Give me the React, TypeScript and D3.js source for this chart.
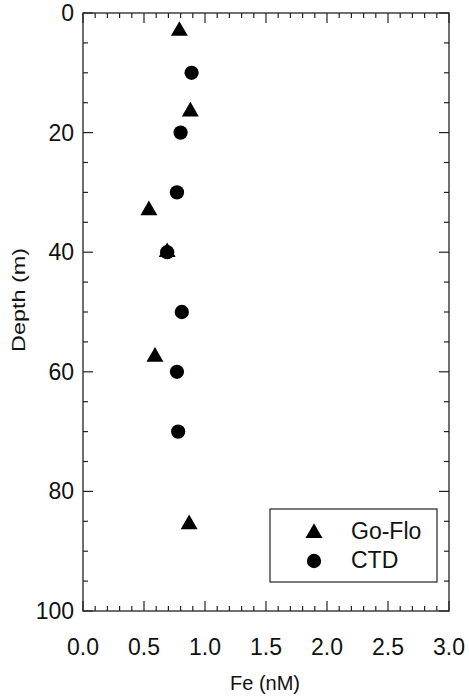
import React from "react";
import * as d3 from "d3";

const goFloFe = [0.79, 0.88, 0.54, 0.69, 0.59, 0.87];
const goFloDepth = [3, 16.5, 33, 40, 57.5, 85.5];
const ctdFe = [0.89, 0.80, 0.77, 0.69, 0.81, 0.77, 0.78];
const ctdDepth = [10, 20, 30, 40, 50, 60, 70];
const xTicks = [0, 0.5, 1.0, 1.5, 2.0, 2.5, 3.0];
const yTicks = [0, 20, 40, 60, 80, 100];
const legendLabels = ["Go-Flo", "CTD"];

const W = 469, H = 697;
const L = 83, R = 449, T = 13, B = 611;

export default function App() {
  const x = d3.scaleLinear().domain([0, 3]).range([L, R]);
  const y = d3.scaleLinear().domain([0, 100]).range([T, B]);
  const tri = d3.symbol().type(d3.symbolTriangle).size(125)();
  const circ = d3.symbol().type(d3.symbolCircle).size(160)();
  const xMinor = d3.range(0, 3.0001, 0.1);
  const yMinor = d3.range(0, 100.001, 5);
  const font = "Liberation Sans, Arial, Helvetica, sans-serif";
  return (
    <svg width={W} height={H} style={{ position: "absolute", left: 0, top: 0, background: "#fff" }}>
      <rect x={L} y={T} width={R - L} height={B - T} fill="none" stroke="#222" strokeWidth={1.3} />
      {xMinor.map((v, i) => {
        const major = Math.abs(v / 0.5 - Math.round(v / 0.5)) < 1e-6;
        const len = major ? 10 : 5;
        return (
          <g key={"xt" + i}>
            <line x1={x(v)} x2={x(v)} y1={B} y2={B - len} stroke="#222" strokeWidth={1.2} />
            <line x1={x(v)} x2={x(v)} y1={T} y2={T + len} stroke="#222" strokeWidth={1.2} />
          </g>
        );
      })}
      {yMinor.map((v, i) => {
        const major = v % 20 === 0;
        const len = major ? 10 : 5;
        return (
          <g key={"yt" + i}>
            <line x1={L} x2={L + len} y1={y(v)} y2={y(v)} stroke="#222" strokeWidth={1.2} />
            <line x1={R} x2={R - len} y1={y(v)} y2={y(v)} stroke="#222" strokeWidth={1.2} />
          </g>
        );
      })}
      {xTicks.map((v) => (
        <text key={"xl" + v} x={x(v)} y={655} textAnchor="middle" fontFamily={font} fontSize={23} fill="#111">
          {v.toFixed(1)}
        </text>
      ))}
      {yTicks.map((v) => (
        <text key={"yl" + v} x={74} y={y(v) + 8} textAnchor="end" fontFamily={font} fontSize={23} fill="#111">
          {v}
        </text>
      ))}
      <text x={265} y={690} textAnchor="middle" fontFamily={font} fontSize={20} fill="#111">Fe (nM)</text>
      <text transform="translate(25,300) rotate(-90)" textAnchor="middle" fontFamily={font} fontSize={19}
        textLength={104} lengthAdjust="spacingAndGlyphs" fill="#111">Depth (m)</text>
      {goFloFe.map((v, i) => (
        <path key={"g" + i} d={tri} transform={`translate(${x(v)},${y(goFloDepth[i])})`} fill="#000" />
      ))}
      {ctdFe.map((v, i) => (
        <path key={"c" + i} d={circ} transform={`translate(${x(v)},${y(ctdDepth[i])})`} fill="#000" />
      ))}
      <rect x={270} y={509} width={167} height={73} fill="#fff" stroke="#222" strokeWidth={1.2} />
      <path d={tri} transform="translate(314,533)" fill="#000" />
      <path d={circ} transform="translate(314,561)" fill="#000" />
      <text x={351} y={539} fontFamily={font} fontSize={23} fill="#111">{legendLabels[0]}</text>
      <text x={351} y={568} fontFamily={font} fontSize={23} fill="#111">{legendLabels[1]}</text>
    </svg>
  );
}
